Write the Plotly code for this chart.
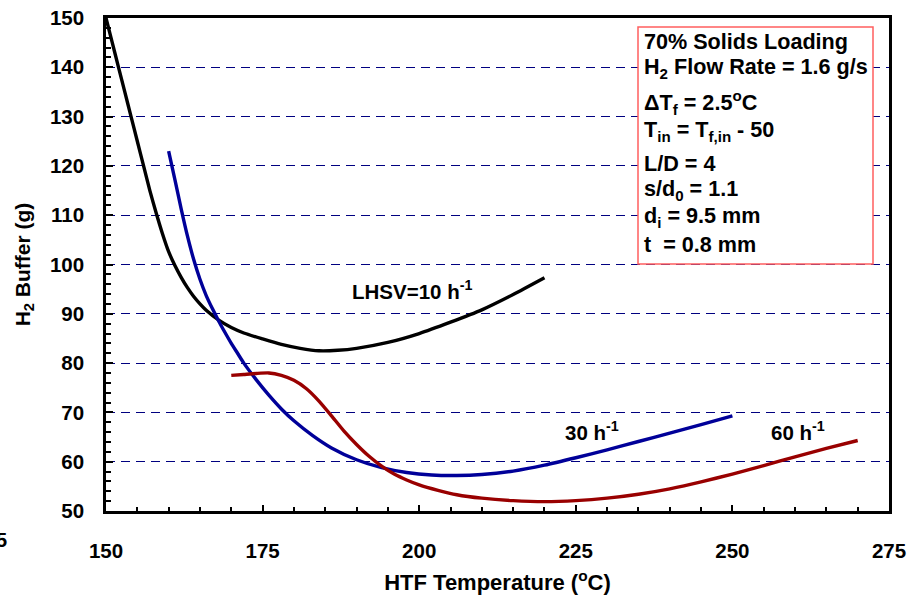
import plotly.graph_objects as go

# HTF temperature (°C) and H2 buffer mass (g) for each LHSV
temp_10 = [150, 151, 152, 153, 154, 155, 156, 157, 158, 159, 160, 161, 162, 163, 164, 165, 166, 168, 170, 172,
           175, 178, 181, 184, 187, 190, 195, 200, 205, 210, 215, 220]
buf_10 = [150, 145, 140, 135, 130, 125, 120, 115, 110.5, 106.3, 102.6, 99.8, 97.4, 95.3, 93.5, 92.0, 90.7, 88.7,
          87.2, 86.1, 84.9, 83.8, 83.0, 82.5, 82.6, 83.0, 84.2, 86.0, 88.3, 90.8, 93.9, 97.3]

temp_30 = [160, 161, 162, 163, 164, 165, 166, 167, 168, 169, 170, 171, 172, 174, 176, 178, 180, 183, 186, 190,
           194, 198, 202, 206, 210, 215, 220, 225, 230, 235, 240, 245, 250]
buf_30 = [123, 117.2, 111.3, 105.8, 101, 97, 93.7, 91, 88.5, 86.2, 84, 82, 80, 76.6, 73.5, 70.7, 68.3, 65.3, 62.8,
          60.4, 58.8, 57.8, 57.3, 57.2, 57.4, 58.1, 59.3, 60.8, 62.4, 64.1, 65.8, 67.5, 69.3]

temp_60 = [170, 172, 174, 176, 178, 180, 182, 184, 186, 188, 190, 192, 194, 196, 198, 200, 203, 206, 210, 215,
           220, 225, 230, 235, 240, 245, 250, 255, 260, 265, 270]
buf_60 = [77.5, 77.7, 77.9, 78, 77.5, 76.5, 74.8, 72.3, 69.3, 66.2, 63.5, 61.1, 59.1, 57.5, 56.3, 55.3, 54.2, 53.3,
          52.6, 52.1, 51.9, 52.1, 52.6, 53.4, 54.5, 55.9, 57.5, 59.2, 61.0, 62.7, 64.3]

x_ticks = [150, 175, 200, 225, 250, 275]
y_ticks = [50, 60, 70, 80, 90, 100, 110, 120, 130, 140, 150]

series = [
    (temp_10, buf_10, "#000000", "LHSV=10 h<sup>-1</sup>"),
    (temp_30, buf_30, "#000099", "30 h<sup>-1</sup>"),
    (temp_60, buf_60, "#990000", "60 h<sup>-1</sup>"),
]

# curve labels: (text, x, y)
curve_labels = [
    ("LHSV=10 h<sup>-1</sup>", 198.8, 94.8),
    ("30 h<sup>-1</sup>", 227.6, 66.2),
    ("60 h<sup>-1</sup>", 260.5, 66.2),
]

conditions = [
    "70% Solids Loading",
    "H<sub>2</sub> Flow Rate = 1.6 g/s",
    "\u0394T<sub>f</sub> = 2.5<sup>o</sup>C",
    "T<sub>in</sub> = T<sub>f,in</sub> - 50",
    "L/D = 4",
    "s/d<sub>0</sub> = 1.1",
    "d<sub>i</sub> = 9.5 mm",
    "t\u00a0 = 0.8 mm",
]

FONT = "Liberation Sans, Arial, sans-serif"

fig = go.Figure()
for xs, ys, color, name in series:
    fig.add_trace(go.Scatter(
        x=xs, y=ys, mode="lines", name=name,
        line=dict(color=color, width=3.4, shape="spline", smoothing=0.6),
        showlegend=False, hoverinfo="skip",
    ))

for text, x, y in curve_labels:
    fig.add_annotation(x=x, y=y, xref="x", yref="y", text=text, showarrow=False,
                       font=dict(family=FONT, size=20.5, color="#000000", weight="bold"))

# parameter box
W, H = 920, 597
ml, mr, mt, mb = 106, 31, 18, 86
pw, ph = W - ml - mr, H - mt - mb


def px_x(p):
    return (p - ml) / pw


def px_y(p):
    return 1 - (p - mt) / ph


fig.add_shape(type="rect", xref="paper", yref="paper",
              x0=px_x(638), x1=px_x(873), y0=px_y(264), y1=px_y(27),
              line=dict(color="#FF5F5F", width=1.5), fillcolor="rgba(255,255,255,1)", layer="above")
line_centers = [41, 67.5, 102, 131, 163, 189.5, 217, 244]
for text, yc in zip(conditions, line_centers):
    fig.add_annotation(x=px_x(642), y=px_y(yc), xref="paper", yref="paper",
                       xanchor="left", yanchor="middle", text=text, showarrow=False,
                       font=dict(family=FONT, size=21.6, color="#000000", weight="bold"))

# fragment of a neighbouring tick label at the left edge
fig.add_annotation(x=px_x(9), y=px_y(540), xref="paper", yref="paper",
                   xanchor="right", yanchor="middle", text="5", showarrow=False,
                   font=dict(family=FONT, size=20, color="#000000", weight="bold"))

axis_common = dict(
    showline=True, linecolor="#000000", linewidth=2.5, mirror=True,
    ticks="inside", tickcolor="#000000", tickwidth=1.5,
    tickfont=dict(family=FONT, size=20.5, color="#000000", weight="bold"),
    zeroline=False,
)

fig.update_xaxes(
    range=[150, 275], tickvals=x_ticks, ticktext=[str(v) for v in x_ticks],
    ticklen=6, showgrid=False, ticklabelstandoff=20,
    minor=dict(dtick=5, ticks="inside", ticklen=4, tickcolor="#000000", showgrid=False),
    title=dict(text="HTF Temperature (<sup>o</sup>C)", standoff=14,
               font=dict(family=FONT, size=22, color="#000000", weight="bold")),
    **axis_common,
)
fig.update_yaxes(
    range=[50, 150], tickvals=y_ticks, ticktext=[str(v) for v in y_ticks],
    ticklen=7, showgrid=True, gridcolor="#000080", gridwidth=1, griddash="9px,6px",
    ticklabelstandoff=15,
    minor=dict(dtick=2, ticks="inside", ticklen=5, tickcolor="#000000", showgrid=False),
    title=dict(text="H<sub>2</sub> Buffer (g)", standoff=14,
               font=dict(family=FONT, size=21, color="#000000", weight="bold")),
    **axis_common,
)

fig.update_layout(
    width=W, height=H,
    margin=dict(l=ml, r=mr, t=mt, b=mb, autoexpand=False),
    plot_bgcolor="#FFFFFF", paper_bgcolor="#FFFFFF",
    font=dict(family=FONT, color="#000000"),
)

fig.write_html("out.html")
